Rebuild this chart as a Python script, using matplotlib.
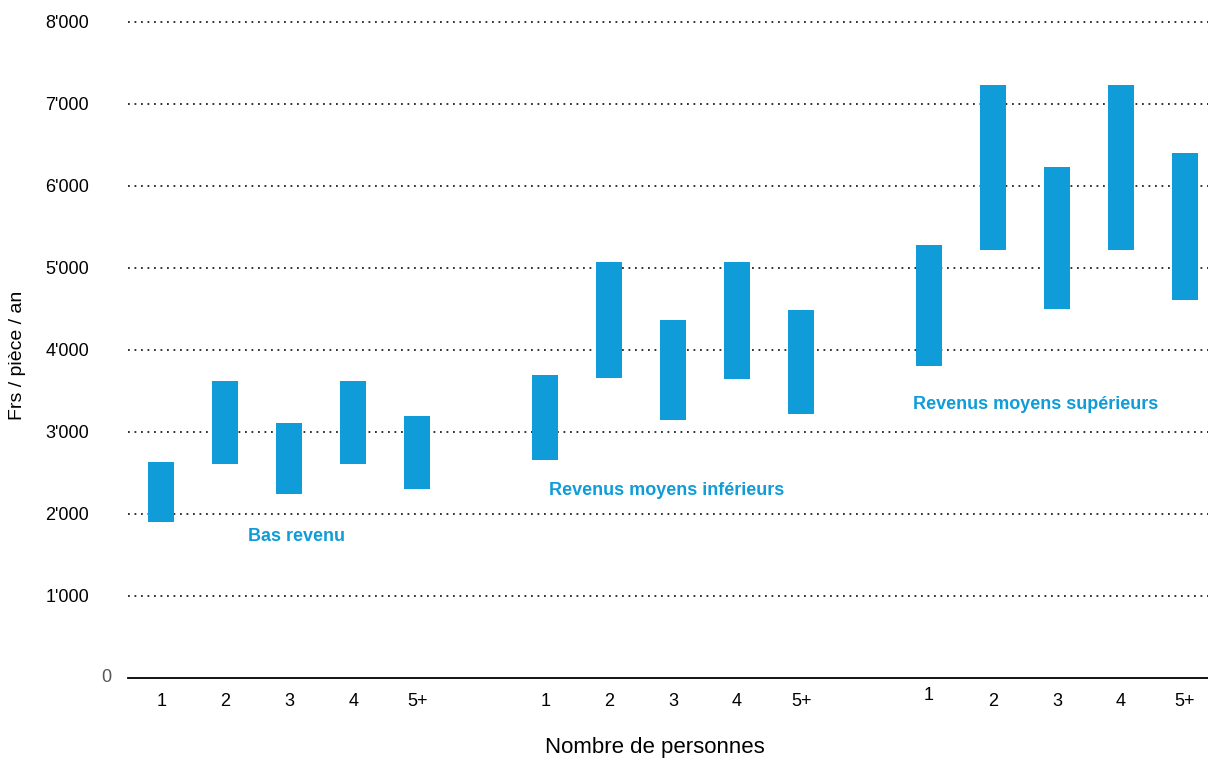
import numpy as np
import matplotlib
matplotlib.use("Agg")
import matplotlib.pyplot as plt
import matplotlib.transforms as mtransforms

plt.rcParams['font.family'] = ['Liberation Sans', 'DejaVu Sans']

# data (Frs / pièce / an)
groups = ["Bas revenu", "Revenus moyens inférieurs", "Revenus moyens supérieurs"]
sizes = ["1", "2", "3", "4", "5+"]
low_bottom = [1902, 2606, 2244, 2606, 2301]
low_top = [2634, 3622, 3114, 3622, 3199]
mid_low_bottom = [2655, 3655, 3142, 3642, 3220]
mid_low_top = [3691, 5069, 4362, 5069, 4484]
mid_high_bottom = [3800, 5215, 4496, 5215, 4610]
mid_high_top = [5280, 7235, 6228, 7235, 6398]
y_ticks = [1000, 2000, 3000, 4000, 5000, 6000, 7000, 8000]

bottoms = [low_bottom, mid_low_bottom, mid_high_bottom]
tops = [low_top, mid_low_top, mid_high_top]

blue = "#0f9cd8"

fig = plt.figure(figsize=(12.08, 7.62), dpi=100)
ax = fig.add_axes([128 / 1208, 84 / 762, 1 - 128 / 1208, (678 - 22) / 762])

# bars: 5 slots per group, 1 empty slot between groups
positions = []
for g in range(len(groups)):
    pos = np.arange(len(sizes)) + g * (len(sizes) + 1)
    positions.append(pos)
    b = np.array(bottoms[g])
    t = np.array(tops[g])
    ax.bar(pos, t - b, bottom=b, width=0.4, color=blue, zorder=3)

ax.set_xlim(-0.52, 16.36)
ax.set_ylim(0, 8000)

# dotted gridlines + solid baseline
for v in y_ticks:
    ax.axhline(v, color="#222222", lw=1.3, ls=(0, (1, 2.6)), zorder=1, clip_on=False)
ax.axhline(0, color="black", lw=1.3, zorder=2, clip_on=False)

for s in ax.spines.values():
    s.set_visible(False)
ax.set_xticks([])
ax.set_yticks(y_ticks)
ax.set_yticklabels([f"{v // 1000}'000" for v in y_ticks], fontsize=13)
ax.tick_params(axis="y", length=0, pad=28)
zero_trans = mtransforms.blended_transform_factory(fig.transFigure, ax.transData)
ax.text(111 / 1208, 0, "0", transform=zero_trans, ha="right", va="center",
        fontsize=13, color="#555555")

# x tick labels under each bar
trans = mtransforms.blended_transform_factory(ax.transData, fig.transFigure)
for g, pos in enumerate(positions):
    for i, (p, lab) in enumerate(zip(pos, sizes)):
        y = 1 - 702 / 762
        if g == 2 and i == 0:
            y = 1 - 695 / 762
        ax.text(p, y, lab, transform=trans, ha="center", va="center", fontsize=13)

# group labels
label_y = [1730, 2290, 3340]
label_dx = [0.12, -0.1, -0.33]
for g, pos in enumerate(positions):
    ax.text(pos.mean() + label_dx[g], label_y[g], groups[g],
            ha="center", va="center", fontsize=13, fontweight="bold", color=blue)

fig.text(655 / 1208, 1 - 748 / 762, "Nombre de personnes", ha="center", va="center", fontsize=16)
fig.text(18 / 1208, 1 - 355 / 762, "Frs / pièce / an", ha="center", va="center",
         rotation=90, fontsize=14)

fig.savefig("out.png", dpi=100)
